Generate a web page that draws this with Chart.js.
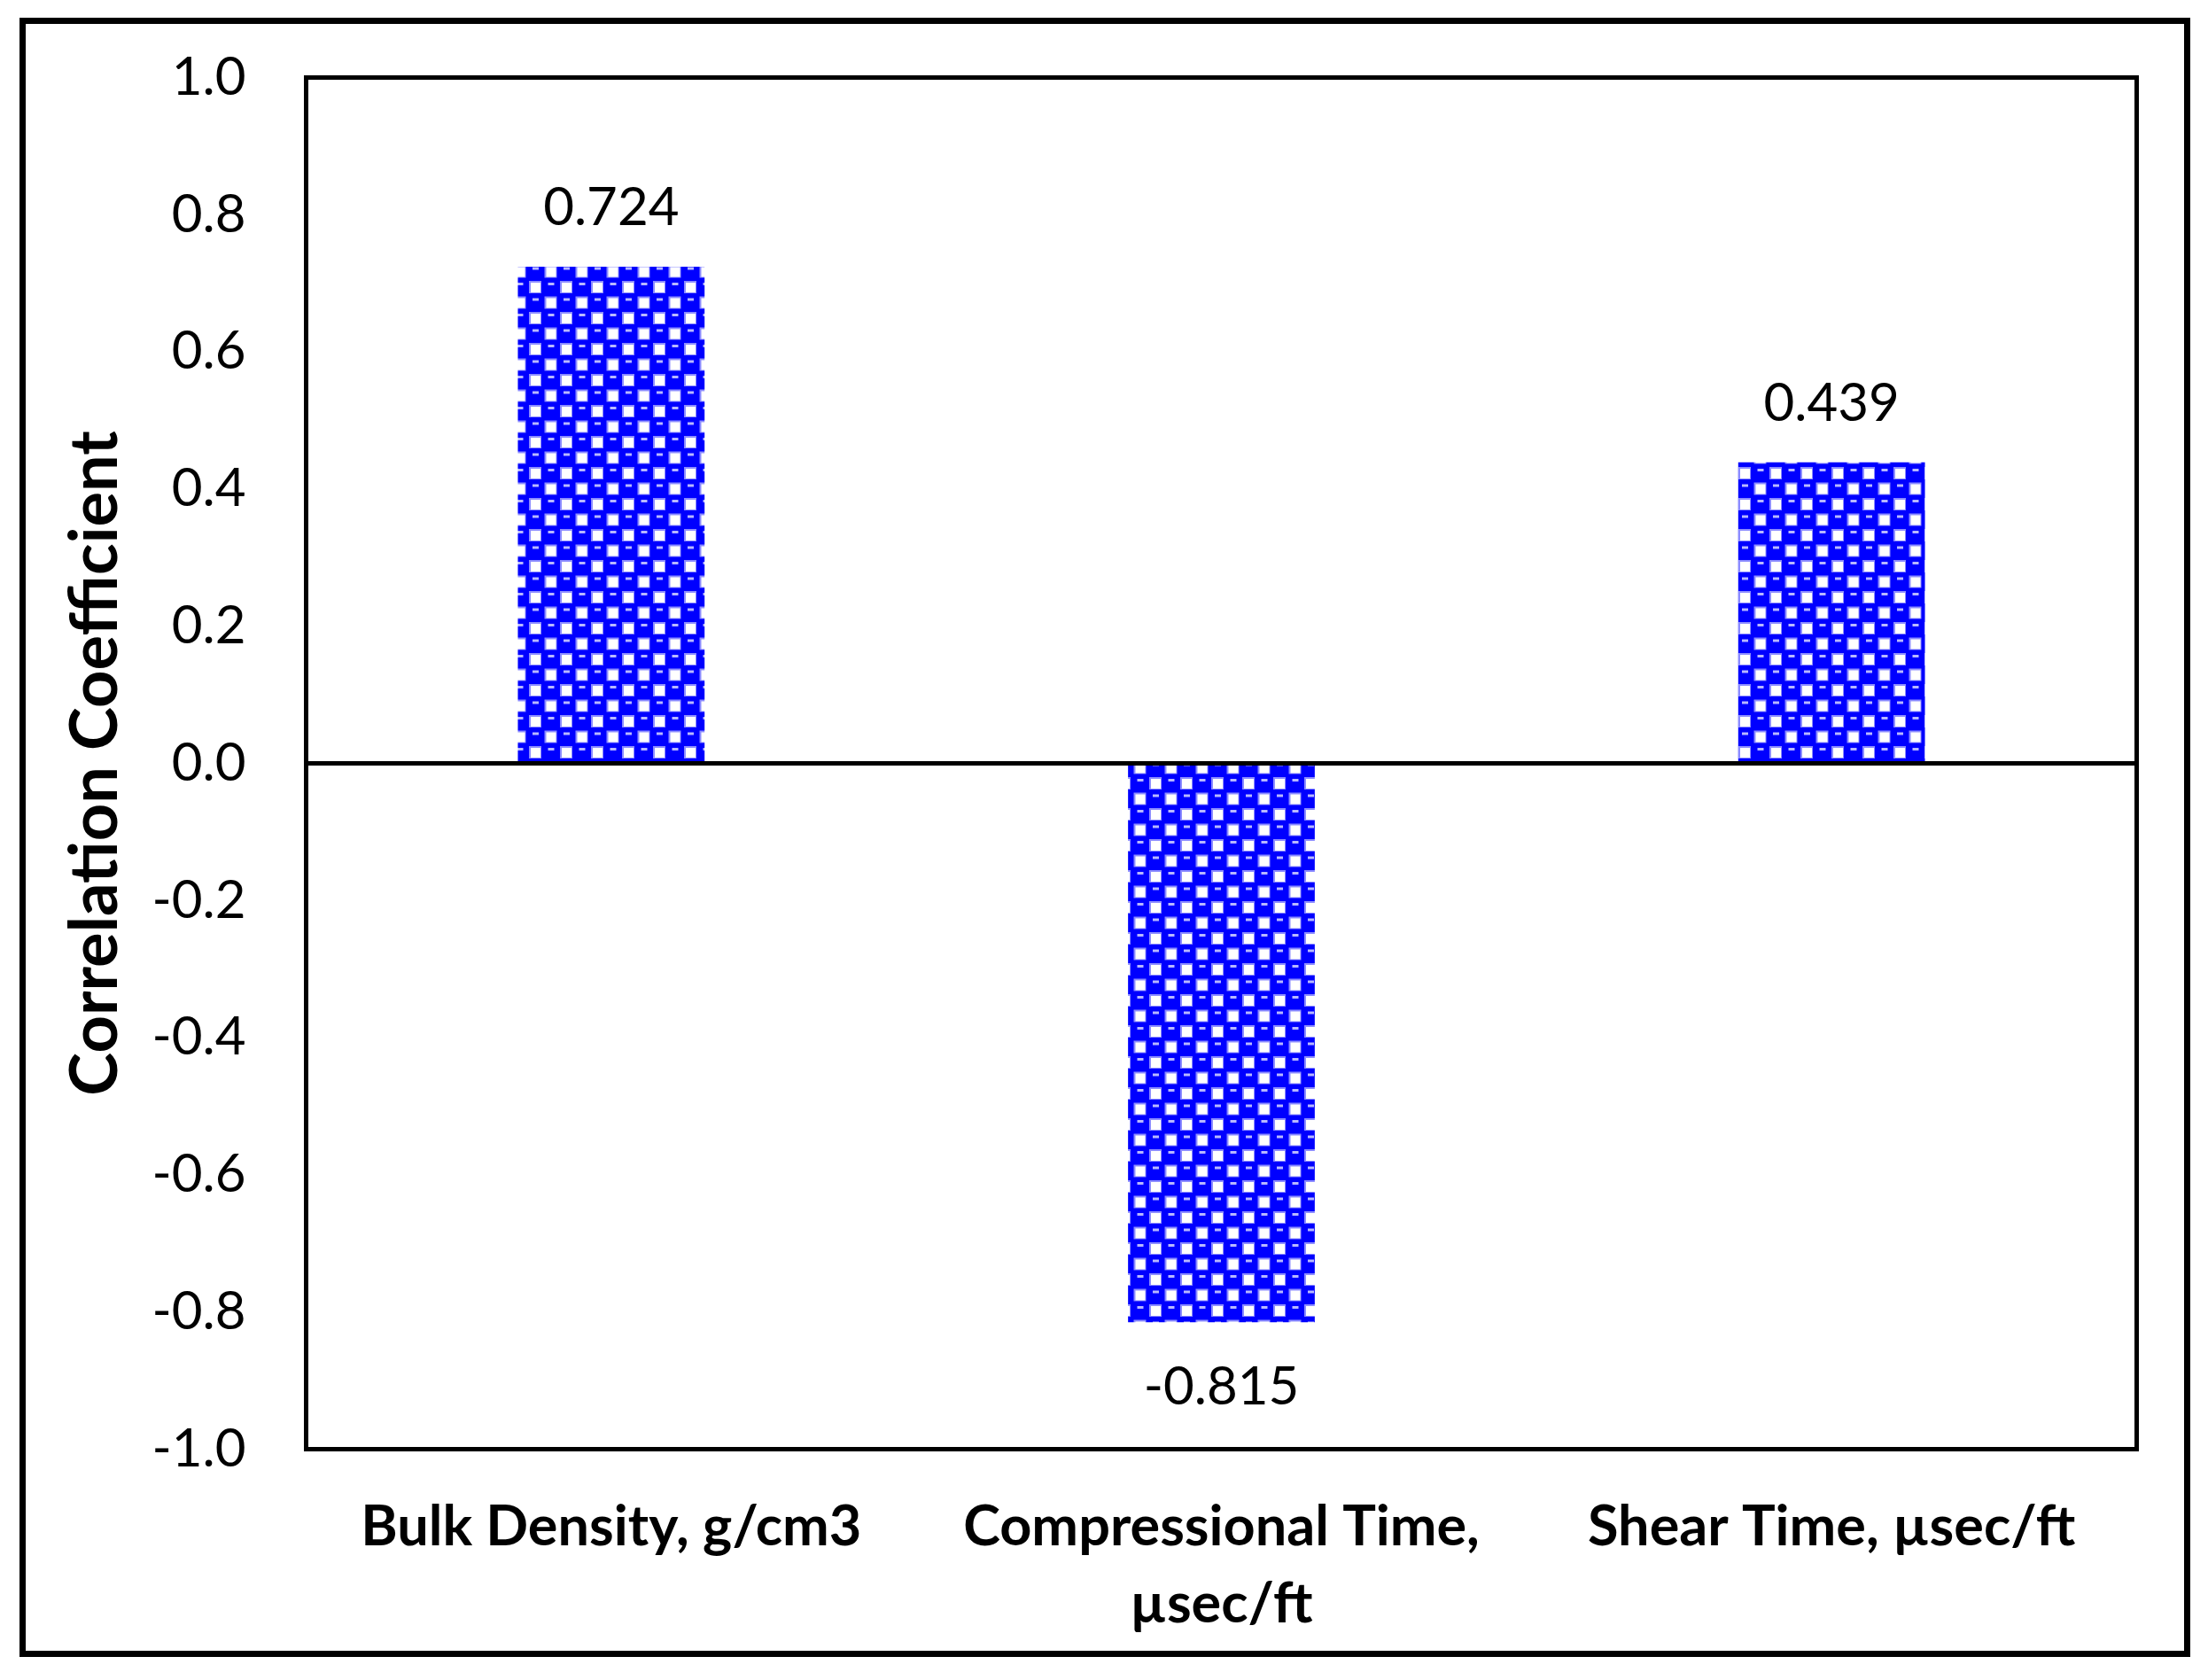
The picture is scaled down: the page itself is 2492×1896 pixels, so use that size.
<!DOCTYPE html>
<html>
<head>
<meta charset="utf-8">
<script src="https://cdn.jsdelivr.net/npm/chart.js@4.4.1/dist/chart.umd.min.js"></script>
<style>
html,body{margin:0;padding:0;background:#fff;}
#wrap{width:2492px;height:1896px;position:relative;}
canvas{display:block;}
</style>
</head>
<body>
<div id="wrap"><canvas id="c" width="2492" height="1896"></canvas></div>
<script>
const categories = [["Bulk Density, g/cm3"], ["Compressional Time,", "µsec/ft"], ["Shear Time, µsec/ft"]];
const correlationValues = [0.724, -0.815, 0.439];
const valueLabels = ["0.724", "-0.815", "0.439"];
const yTickMin = -1.0;
const yTickMax = 1.0;
const yTickStep = 0.2;
const yTitle = "Correlation Coefficient";

// sphere-like pattern tile
function makePattern(ctx) {
  const s = 35, h = 17.5;
  const t = document.createElement('canvas');
  t.width = s; t.height = s;
  const c = t.getContext('2d');
  c.fillStyle = '#0000ff';
  c.fillRect(0, 0, s, s);
  function whiteCell(x, y) {
    c.fillStyle = '#8c8cff';
    c.fillRect(x + 2, y + 2, 14, 14);
    c.fillStyle = '#ffffff';
    c.fillRect(x + 4, y + 4, 11, 11);
  }
  function blueCell(x, y) {
    c.fillStyle = '#b8b8ff';
    c.fillRect(x + 6, y + 4, 7, 3);
  }
  whiteCell(0, 0);
  whiteCell(h, h);
  blueCell(h, 0);
  blueCell(0, h);
  return ctx.createPattern(t, 'repeat');
}

const canvas = document.getElementById('c');
const ctx = canvas.getContext('2d');
const pattern = makePattern(ctx);

const framePlugin = {
  id: 'frame',
  afterDatasetsDraw(chart) {
    const c = chart.ctx;
    const a = chart.chartArea;
    const y = chart.scales.y;
    c.save();
    // zero line
    c.strokeStyle = '#000';
    c.lineWidth = 5;
    const y0 = y.getPixelForValue(0);
    c.beginPath();
    c.moveTo(a.left, y0);
    c.lineTo(a.right, y0);
    c.stroke();
    // plot border
    c.lineWidth = 5;
    c.strokeRect(a.left, a.top, a.right - a.left, a.bottom - a.top);
    // value labels
    c.fillStyle = '#000';
    c.font = '60px Lato';
    c.textAlign = 'center';
    c.textBaseline = 'middle';
    const meta = chart.getDatasetMeta(0);
    meta.data.forEach((bar, i) => {
      const v = correlationValues[i];
      const ly = v >= 0 ? bar.y - 66 : bar.y + 73;
      c.fillText(valueLabels[i], bar.x, ly);
    });
    // outer frame
    c.lineWidth = 7;
    c.strokeRect(25.5, 23.5, 2443, 1843);
    c.restore();
  }
};

new Chart(ctx, {
  type: 'bar',
  data: {
    labels: categories,
    datasets: [{
      data: correlationValues,
      backgroundColor: pattern,
      borderWidth: 0,
      categoryPercentage: 1.0,
      barPercentage: 0.306
    }]
  },
  options: {
    responsive: false,
    animation: false,
    devicePixelRatio: 1,
    layout: { padding: { top: 87.5, right: 80.5, left: 0, bottom: 0 } },
    plugins: { legend: { display: false }, tooltip: { enabled: false } },
    scales: {
      x: {
        grid: { display: false, drawTicks: false },
        border: { display: false },
        ticks: {
          color: '#000',
          font: { family: 'Lato', size: 63, weight: 'bold', lineHeight: 1.38 },
          padding: 45,
          maxRotation: 0,
          autoSkip: false
        },
        afterFit(scale) { scale.height = 1896 - 1635.5; }
      },
      y: {
        min: yTickMin,
        max: yTickMax,
        grid: { display: false, drawTicks: false },
        border: { display: false },
        ticks: {
          stepSize: yTickStep,
          color: '#000',
          font: { family: 'Lato', size: 60 },
          padding: 68,
          callback: (v) => (Math.abs(v) < 1e-9 ? 0 : v).toFixed(1)
        },
        title: {
          display: true,
          text: yTitle,
          color: '#000',
          font: { family: 'Lato', size: 74, weight: 'bold', lineHeight: 1.2 },
          padding: { top: 64, bottom: 0 }
        },
        afterFit(scale) {
          scale.width = 345.5;
          scale.paddingTop = 0;
          scale.paddingBottom = 0;
        }
      }
    }
  },
  plugins: [framePlugin]
});
</script>
</body>
</html>
